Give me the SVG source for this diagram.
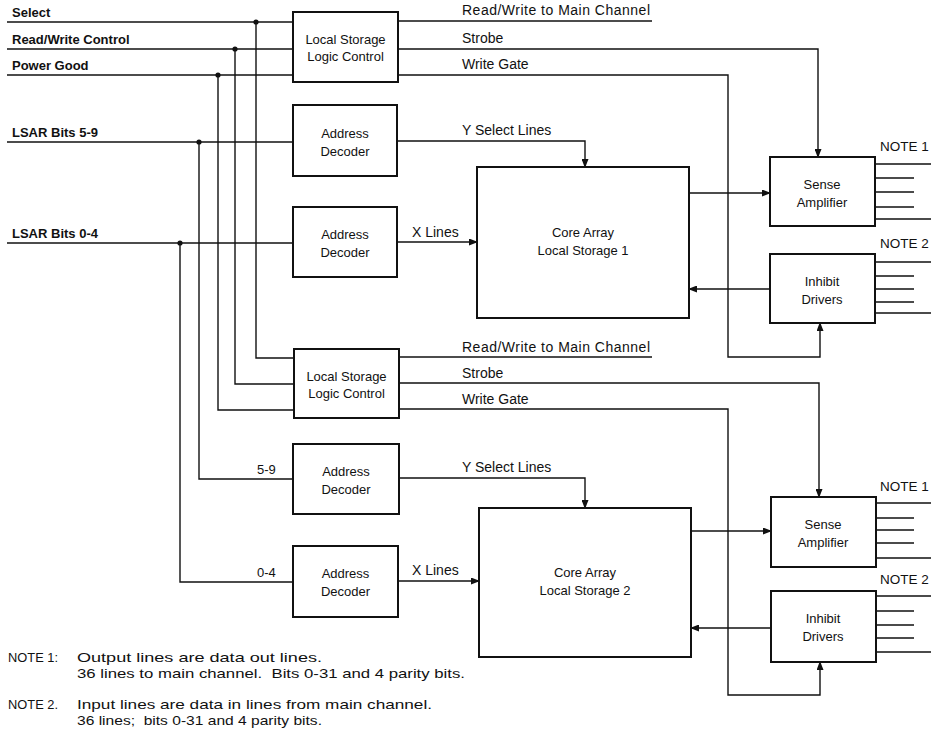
<svg xmlns="http://www.w3.org/2000/svg" width="931" height="730" viewBox="0 0 931 730">
<style>
  .box { fill: #fff; stroke: #111; stroke-width: 2; }
  .ln { fill: none; stroke: #111; stroke-width: 1.4; }
  .arr { fill: none; stroke: #111; stroke-width: 1.4; marker-end: url(#ah); }
  .t { font-family: "Liberation Sans", Arial, sans-serif; font-size: 13px; fill: #111; }
  .c { text-anchor: middle; }
  .b { font-weight: bold; }
  .lbl { font-family: "Liberation Sans", Arial, sans-serif; font-size: 14px; fill: #111; }
  .nt { font-family: "Liberation Sans", Arial, sans-serif; font-size: 13.5px; fill: #111; }
  .note { font-family: "Liberation Sans", Arial, sans-serif; font-size: 13px; fill: #111; }
  .dot { fill: #111; }
</style>
<defs>
  <marker id="ah" markerWidth="9" markerHeight="7" refX="8" refY="3.5" orient="auto" markerUnits="userSpaceOnUse">
    <path d="M0,0 L9,3.5 L0,7 z" fill="#111"/>
  </marker>
</defs>
<rect width="931" height="730" fill="#fff"/>

<g id="connectors">
  <path class="ln" d="M7,22 H293"/>
  <path class="ln" d="M7,49 H293"/>
  <path class="ln" d="M7,75 H293"/>
  <path class="ln" d="M7,142 H293"/>
  <path class="ln" d="M7,243 H293"/>
  <path class="ln" d="M256,22 V358 H294"/>
  <path class="ln" d="M235,49 V384 H294"/>
  <path class="ln" d="M218,75 V410 H294"/>
  <path class="ln" d="M199,142 V479 H293"/>
  <path class="ln" d="M180,243 V582 H293"/>
  <circle class="dot" cx="256" cy="22" r="2.6"/>
  <circle class="dot" cx="235" cy="49" r="2.6"/>
  <circle class="dot" cx="218" cy="75" r="2.6"/>
  <circle class="dot" cx="199" cy="142" r="2.6"/>
  <circle class="dot" cx="180" cy="243" r="2.6"/>

  <path class="ln" d="M398,21 H652"/>
  <path class="arr" d="M398,49 H818 V157"/>
  <path class="arr" d="M398,75 H728 V357 H820 V323"/>
  <path class="arr" d="M397,141 H585 V167"/>
  <path class="arr" d="M397,242 H477"/>
  <path class="arr" d="M689,193 H770"/>
  <path class="arr" d="M770,289 H689"/>

  <path class="ln" d="M399,357 H652"/>
  <path class="arr" d="M399,383 H819 V497"/>
  <path class="arr" d="M399,409 H728 V695 H820 V662"/>
  <path class="arr" d="M399,478 H585 V508"/>
  <path class="arr" d="M398,581 H479"/>
  <path class="arr" d="M691,531 H771"/>
  <path class="arr" d="M771,628 H691"/>

  <path class="ln" d="M875,164 H931 M875,178 H914 M875,192 H914 M875,207 H914 M875,219 H931"/>
  <path class="ln" d="M875,262 H931 M875,276 H914 M875,289 H914 M875,302 H914 M875,313 H931"/>
  <path class="ln" d="M876,503 H931 M876,518 H914 M876,530 H914 M876,543 H914 M876,558 H931"/>
  <path class="ln" d="M876,596 H931 M876,611 H914 M876,625 H914 M876,638 H914 M876,652 H931"/>
</g>

<g id="input-labels">
  <text class="t b" x="12" y="17">Select</text>
  <text class="t b" x="12" y="44">Read/Write Control</text>
  <text class="t b" x="12" y="70">Power Good</text>
  <text class="t b" x="12" y="137">LSAR Bits 5-9</text>
  <text class="t b" x="12" y="238">LSAR Bits 0-4</text>
  <text class="t" x="257" y="474">5-9</text>
  <text class="t" x="257" y="577">0-4</text>
</g>

<g id="line-labels">
  <text class="lbl" x="462" y="15" textLength="188">Read/Write to Main Channel</text>
  <text class="lbl" x="462" y="43">Strobe</text>
  <text class="lbl" x="462" y="69">Write Gate</text>
  <text class="lbl" x="462" y="135">Y Select Lines</text>
  <text class="lbl" x="412" y="237">X Lines</text>
  <text class="lbl" x="462" y="352" textLength="188">Read/Write to Main Channel</text>
  <text class="lbl" x="462" y="378">Strobe</text>
  <text class="lbl" x="462" y="404">Write Gate</text>
  <text class="lbl" x="462" y="472">Y Select Lines</text>
  <text class="lbl" x="412" y="575">X Lines</text>
  <text class="nt" x="880" y="151">NOTE 1</text>
  <text class="nt" x="880" y="248">NOTE 2</text>
  <text class="nt" x="880" y="491">NOTE 1</text>
  <text class="nt" x="880" y="584">NOTE 2</text>
</g>

<g id="lslc1">
  <rect class="box" x="293" y="12" width="105" height="70"/>
  <text class="t c" x="345.5" y="44">Local Storage</text>
  <text class="t c" x="345.5" y="61">Logic Control</text>
</g>
<g id="ad1">
  <rect class="box" x="293" y="105" width="104" height="71"/>
  <text class="t c" x="345" y="138">Address</text>
  <text class="t c" x="345" y="156">Decoder</text>
</g>
<g id="ad2">
  <rect class="box" x="293" y="207" width="104" height="70"/>
  <text class="t c" x="345" y="239">Address</text>
  <text class="t c" x="345" y="257">Decoder</text>
</g>
<g id="ca1">
  <rect class="box" x="477" y="167" width="212" height="151"/>
  <text class="t c" x="583" y="237" font-size="14">Core Array</text>
  <text class="t c" x="583" y="255" font-size="14">Local Storage 1</text>
</g>
<g id="sa1">
  <rect class="box" x="770" y="157" width="105" height="69"/>
  <text class="t c" x="822" y="189">Sense</text>
  <text class="t c" x="822" y="207">Amplifier</text>
</g>
<g id="id1">
  <rect class="box" x="770" y="254" width="105" height="69"/>
  <text class="t c" x="822" y="286">Inhibit</text>
  <text class="t c" x="822" y="304">Drivers</text>
</g>

<g id="lslc2">
  <rect class="box" x="294" y="349" width="105" height="69"/>
  <text class="t c" x="346.5" y="381">Local Storage</text>
  <text class="t c" x="346.5" y="398">Logic Control</text>
</g>
<g id="ad3">
  <rect class="box" x="293" y="444" width="106" height="70"/>
  <text class="t c" x="346" y="476">Address</text>
  <text class="t c" x="346" y="494">Decoder</text>
</g>
<g id="ad4">
  <rect class="box" x="293" y="546" width="105" height="71"/>
  <text class="t c" x="345.5" y="578">Address</text>
  <text class="t c" x="345.5" y="596">Decoder</text>
</g>
<g id="ca2">
  <rect class="box" x="479" y="508" width="212" height="149"/>
  <text class="t c" x="585" y="577" font-size="14">Core Array</text>
  <text class="t c" x="585" y="595" font-size="14">Local Storage 2</text>
</g>
<g id="sa2">
  <rect class="box" x="771" y="497" width="105" height="70"/>
  <text class="t c" x="823" y="529">Sense</text>
  <text class="t c" x="823" y="547">Amplifier</text>
</g>
<g id="id2">
  <rect class="box" x="771" y="591" width="105" height="71"/>
  <text class="t c" x="823" y="623">Inhibit</text>
  <text class="t c" x="823" y="641">Drivers</text>
</g>

<g id="notes">
  <text class="note" x="8" y="662" textLength="50" lengthAdjust="spacingAndGlyphs">NOTE 1:</text>
  <text class="note" x="77" y="662" textLength="245" lengthAdjust="spacingAndGlyphs">Output lines are data out lines.</text>
  <text class="note" x="77" y="678" textLength="388" lengthAdjust="spacingAndGlyphs" xml:space="preserve">36 lines to main channel.  Bits 0-31 and 4 parity bits.</text>
  <text class="note" x="8" y="709" textLength="50" lengthAdjust="spacingAndGlyphs">NOTE 2.</text>
  <text class="note" x="77" y="709" textLength="355" lengthAdjust="spacingAndGlyphs">Input lines are data in lines from main channel.</text>
  <text class="note" x="77" y="725" textLength="245" lengthAdjust="spacingAndGlyphs" xml:space="preserve">36 lines;  bits 0-31 and 4 parity bits.</text>
</g>
</svg>
